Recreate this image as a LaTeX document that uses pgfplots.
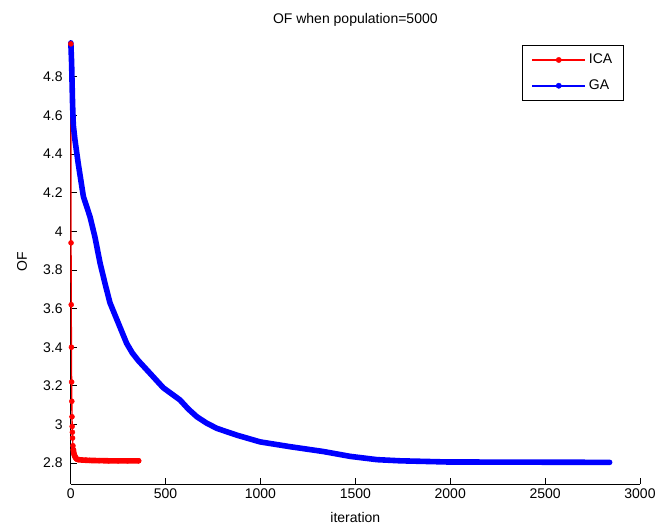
\documentclass[border=0pt]{standalone}
\usepackage{pgfplots}
\usepackage{pgfplotstable}
\pgfplotsset{compat=1.18}
\usepackage{fontspec}
\setmainfont{Liberation Sans}

\pgfplotstableread{
x y
1 4.97
2 3.94
3 3.62
4 3.40
5 3.22
6 3.12
7 3.04
8 2.99
9 2.96
10 2.93
12 2.89
14 2.87
17 2.85
20 2.84
25 2.83
30 2.822
40 2.818
60 2.816
80 2.815
100 2.814
150 2.813
200 2.812
250 2.812
300 2.812
358 2.812
}\icadata

\pgfplotstableread{
x y
1 4.975
5 4.87
10 4.66
14 4.55
23 4.47
40 4.35
67 4.18
102 4.075
128 3.97
155 3.835
181 3.73
207 3.63
251 3.525
295 3.42
325 3.37
357 3.33
418 3.265
488 3.19
576 3.127
620 3.08
665 3.04
715 3.008
770 2.98
875 2.945
998 2.91
1157 2.885
1332 2.86
1473 2.835
1614 2.818
1737 2.812
1983 2.806
2400 2.805
2840 2.804
}\gadata

\begin{document}
\begin{tikzpicture}
\begin{axis}[
  name=ax,
  scale only axis,
  width=427pt, height=333pt,
  xmin=0, xmax=3000,
  ymin=2.692, ymax=4.99,
  axis lines=left,
  axis line style={-, black, line width=0.6pt},
  tick align=inside,
  major tick length=4.5pt,
  tick style={black, line width=0.6pt},
  xtick={0,500,...,3000},
  ytick={2.8,3,3.2,3.4,3.6,3.8,4,4.2,4.4,4.6,4.8},
  scaled ticks=false,
  /pgf/number format/1000 sep={},
  /pgf/number format/assume math mode=true,
  tick label style={font=\fontsize{10.5}{12}\selectfont},
  yticklabel style={xshift=-2.5pt},
  title={OF when population=5000},
  title style={at={(0.5,1)}, anchor=base, yshift=6.5pt, font=\fontsize{10.5}{12}\selectfont},
  xlabel={iteration},
  xlabel style={at={(axis description cs:0.5,0)}, anchor=base, yshift=-29pt, font=\fontsize{10.5}{12}\selectfont},
  ylabel={OF},
  ylabel style={at={(axis description cs:-0.0855,0.5)}, anchor=center, font=\fontsize{10.5}{12}\selectfont},
  legend style={at={(0.972,0.9887)}, anchor=north east, draw=black, line width=0.6pt,
    fill=white, inner xsep=6.5pt, inner ysep=4.5pt, row sep=6.5pt,
    font=\fontsize{10.5}{12}\selectfont, cells={anchor=west}},
  legend cell align=left,
  legend image code/.code={\draw[mark repeat=2, mark phase=2, #1] plot coordinates {(0pt,0pt) (20pt,0pt) (40pt,0pt)};},
  clip=false,
]
\addplot[red, line width=4.2pt, line cap=round, line join=round,
  restrict x to domain=14:400, forget plot] table[x=x, y=y] {\icadata};
\addplot[red, line width=1pt, mark=*, mark size=1.9pt, mark options={solid, fill=red, line width=0.3pt}, forget plot]
  table[x=x, y=y] {\icadata};
\addplot[blue, line width=4.2pt, line cap=round, line join=round, forget plot]
  table[x=x, y=y] {\gadata};
\addlegendimage{red, line width=1.3pt, mark=*, mark size=2pt, mark options={solid, fill=red, line width=0.3pt}}
\addlegendentry{ICA}
\addlegendimage{blue, line width=1.3pt, mark=*, mark size=2pt, mark options={solid, fill=blue, line width=0.3pt}}
\addlegendentry{GA}
\end{axis}
\pgfresetboundingbox
\path[use as bounding box] (ax.south west) ++(-53pt,-35.25pt) rectangle ++(501pt,398.25pt);
\end{tikzpicture}
\end{document}
